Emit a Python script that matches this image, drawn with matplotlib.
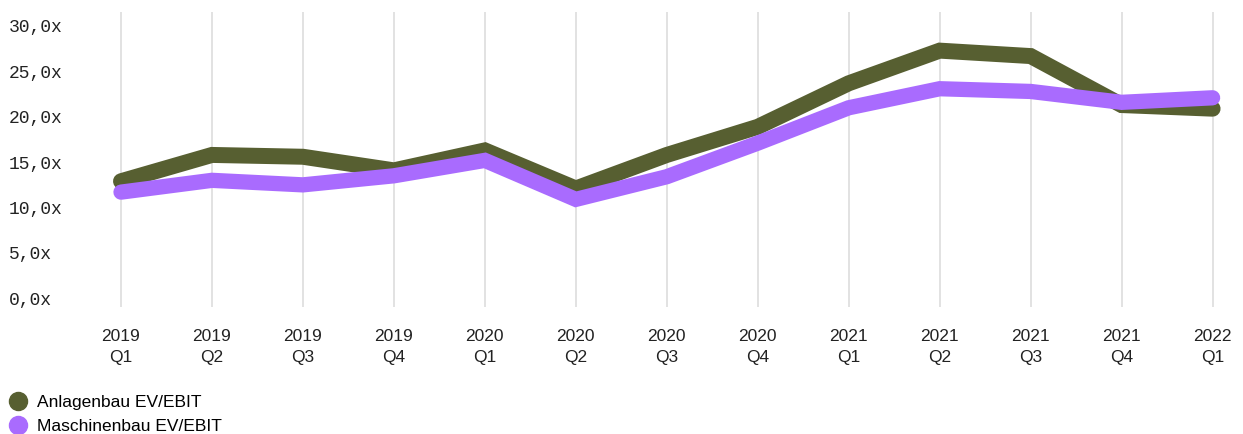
import matplotlib.pyplot as plt
from matplotlib.transforms import blended_transform_factory
from matplotlib.lines import Line2D

# Daten
quarters = ["2019\nQ1", "2019\nQ2", "2019\nQ3", "2019\nQ4",
            "2020\nQ1", "2020\nQ2", "2020\nQ3", "2020\nQ4",
            "2021\nQ1", "2021\nQ2", "2021\nQ3", "2021\nQ4",
            "2022\nQ1"]
anlagenbau = [13.1, 16.0, 15.8, 14.3, 16.5, 12.3, 16.0, 19.1, 23.9, 27.5, 26.9, 21.5, 21.1]
maschinenbau = [11.9, 13.2, 12.7, 13.7, 15.4, 11.1, 13.6, 17.3, 21.2, 23.3, 23.0, 21.8, 22.3]
y_ticks = [0, 5, 10, 15, 20, 25, 30]

green = "#575f31"
purple = "#a96bfe"

fig = plt.figure(figsize=(12.43, 4.34), dpi=100)
ax = fig.add_axes([102.8 / 1243, 0.2919, 1128 / 1243, 0.6813])

x = list(range(len(quarters)))
ax.plot(x, anlagenbau, color=green, lw=11.5, solid_capstyle="round",
        solid_joinstyle="miter", clip_on=False, zorder=3)
ax.plot(x, maschinenbau, color=purple, lw=11, solid_capstyle="round",
        solid_joinstyle="miter", clip_on=False, zorder=4)

ax.set_xlim(-0.2, 12.2)
ax.set_ylim(-0.8, 31.8)
for xi in x:
    ax.axvline(xi, color="#dddddd", lw=1.2, zorder=1)

for s in ax.spines.values():
    s.set_visible(False)
ax.set_yticks([])
ax.set_xticks(x)
ax.set_xticklabels(quarters, fontsize=12.5, family="Liberation Sans",
                   color="#222222", linespacing=1.55)
ax.tick_params(axis="x", length=0, pad=15.5)

# y-Beschriftung links ausgerichtet
trans = blended_transform_factory(fig.transFigure, ax.transData)
for v in y_ticks:
    ax.text(9 / 1243, v, f"{v},0x", transform=trans, ha="left", va="center",
            fontsize=13, family="Liberation Mono", color="#222222")

handles = [
    Line2D([], [], ls="none", marker="o", ms=13, color=green, label="Anlagenbau EV/EBIT"),
    Line2D([], [], ls="none", marker="o", ms=13, color=purple, label="Maschinenbau EV/EBIT"),
]
fig.legend(handles=handles, loc="lower left", bbox_to_anchor=(0.005, -0.008),
           frameon=False, prop={"family": "Liberation Sans", "size": 12.5},
           handletextpad=0.55, labelspacing=0.5, handlelength=1.0,
           borderaxespad=0.1, borderpad=0.1)

fig.savefig("out.png", dpi=100)
